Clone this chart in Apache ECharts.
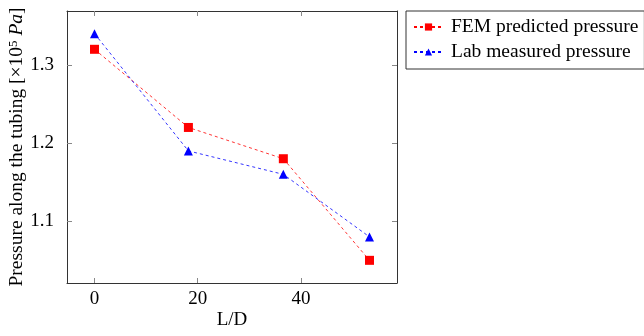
<!DOCTYPE html>
<html><head><meta charset="utf-8">
<script src="https://cdn.jsdelivr.net/npm/echarts@6/dist/echarts.min.js"></script>
<style>html,body{margin:0;padding:0;background:#fff}#c{width:644px;height:336px}</style>
</head><body><div id="c"></div>
<script>
const ldValues = [0, 18.2, 36.6, 53.3];
const femPressure = [1.32, 1.22, 1.18, 1.05];
const labPressure = [1.34, 1.19, 1.16, 1.08];
const xTicks = [0, 20, 40];
const yTicks = [1.1, 1.2, 1.3];

const F = 'Liberation Serif';
const chart = echarts.init(document.getElementById('c'));
const pairs = (ys) => ldValues.map((x, i) => [x, ys[i]]);
const line = {show: true, onZero: false, lineStyle: {color: '#333', width: 1}};
const tick = (vals) => ({show: true, inside: true, length: 5, lineStyle: {color: '#888', width: 1}, customValues: vals});
chart.setOption({
  animation: false,
  grid: {left: 67, right: 247, top: 11, bottom: 53, containLabel: false, outerBoundsMode: 'none'},
  xAxis: [
    {type: 'value', min: -5.33, max: 58.63, position: 'bottom',
      name: 'L/D', nameLocation: 'middle', nameGap: 28, nameMoveOverlap: false,
      nameTextStyle: {fontFamily: F, fontSize: 19, color: '#000'},
      axisLine: line, splitLine: {show: false}, axisTick: tick(xTicks),
      axisLabel: {fontFamily: F, fontSize: 19, color: '#000', margin: 7, customValues: xTicks}},
    {type: 'value', min: -5.33, max: 58.63, position: 'top',
      axisLine: line, splitLine: {show: false}, axisTick: tick(xTicks), axisLabel: {show: false}}
  ],
  yAxis: [
    {type: 'value', min: 1.021, max: 1.369, position: 'left',
      name: '{n|Pressure along the tubing [×10}{s|5}{n| }{i|Pa}{n|]}',
      nameLocation: 'middle', nameGap: 40, nameRotate: 90, nameMoveOverlap: false,
      nameTextStyle: {rich: {
        n: {fontFamily: F, fontSize: 19.5, color: '#000'},
        s: {fontFamily: F, fontSize: 13, color: '#000', verticalAlign: 'top', padding: [0,0,7,0]},
        i: {fontFamily: F, fontSize: 19.5, fontStyle: 'italic', color: '#000'}
      }},
      axisLine: line, splitLine: {show: false}, axisTick: tick(yTicks),
      axisLabel: {fontFamily: F, fontSize: 19, color: '#000', margin: 13,
        customValues: yTicks, formatter: v => v.toFixed(1)}},
    {type: 'value', min: 1.021, max: 1.369, position: 'right',
      axisLine: line, splitLine: {show: false}, axisTick: tick(yTicks), axisLabel: {show: false}}
  ],
  legend: {
    orient: 'vertical', left: 406, top: 11,
    borderColor: '#333', borderWidth: 1, borderRadius: 0,
    padding: [6, 6, 7, 7], itemGap: 5, itemWidth: 29, itemHeight: 9,
    textStyle: {fontFamily: F, fontSize: 19.5, color: '#000', padding: [0, 0, 0, 3]},
    data: ['FEM predicted pressure', 'Lab measured pressure']
  },
  series: [
    {name: 'FEM predicted pressure', type: 'line', data: pairs(femPressure),
      symbol: 'rect', symbolSize: 9, color: '#ff0000',
      itemStyle: {color: '#ff0000'},
      lineStyle: {color: '#ff0000', width: 0.8, type: [3, 3]}},
    {name: 'Lab measured pressure', type: 'line', data: pairs(labPressure),
      symbol: 'triangle', symbolSize: 9, color: '#0000ff',
      itemStyle: {color: '#0000ff'},
      lineStyle: {color: '#0000ff', width: 0.8, type: [3, 3]}}
  ]
});
</script></body></html>
